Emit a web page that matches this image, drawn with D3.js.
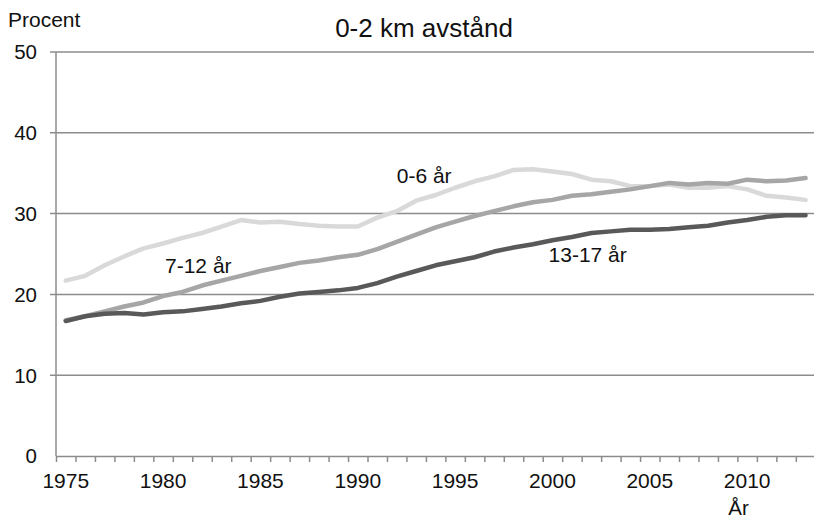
<!DOCTYPE html>
<html>
<head>
<meta charset="utf-8">
<script src="https://cdn.jsdelivr.net/npm/d3@7"></script>
<style>
  body { margin: 0; background: #fff; }
  svg text { font-family: "Liberation Sans", Arial, sans-serif; fill: #111; }
</style>
</head>
<body>
<div id="chart"></div>
<script>
var years = d3.range(1975, 2014);

// 0-6 år
var age0to6 = [21.7, 22.3, 23.6, 24.7, 25.7, 26.3, 27.0, 27.6, 28.4, 29.2,
  28.9, 29.0, 28.7, 28.5, 28.4, 28.4, 29.5, 30.3, 31.6, 32.3,
  33.2, 34.0, 34.6, 35.4, 35.5, 35.2, 34.9, 34.2, 34.0, 33.4,
  33.4, 33.6, 33.2, 33.2, 33.4, 33.0, 32.2, 32.0, 31.7];
// 7-12 år
var age7to12 = [16.8, 17.3, 17.9, 18.5, 19.0, 19.8, 20.3, 21.1, 21.7, 22.3,
  22.9, 23.4, 23.9, 24.2, 24.6, 24.9, 25.6, 26.5, 27.4, 28.3,
  29.0, 29.7, 30.3, 30.9, 31.4, 31.7, 32.2, 32.4, 32.7, 33.0,
  33.4, 33.8, 33.6, 33.8, 33.7, 34.2, 34.0, 34.1, 34.4];
// 13-17 år
var age13to17 = [16.7, 17.3, 17.6, 17.7, 17.5, 17.8, 17.9, 18.2, 18.5, 18.9,
  19.2, 19.7, 20.1, 20.3, 20.5, 20.8, 21.4, 22.2, 22.9, 23.6,
  24.1, 24.6, 25.3, 25.8, 26.2, 26.7, 27.1, 27.6, 27.8, 28.0,
  28.0, 28.1, 28.3, 28.5, 28.9, 29.2, 29.6, 29.8, 29.8];

var yTicks = [0, 10, 20, 30, 40, 50];
var xLabels = [1975, 1980, 1985, 1990, 1995, 2000, 2005, 2010];

var series = [
  { name: "0-6 år", values: age0to6, color: "#d9d9d9", labelYear: 1992, labelValue: 33.8 },
  { name: "7-12 år", values: age7to12, color: "#a6a6a6", labelYear: 1980.1, labelValue: 22.7 },
  { name: "13-17 år", values: age13to17, color: "#595959", labelYear: 1999.8, labelValue: 24.0 }
];

var width = 814, height = 519;

var svg = d3.select("#chart").append("svg")
    .attr("width", width)
    .attr("height", height);

// category axis: one slot per year, line points in the middle of the slot
var x = d3.scaleLinear()
    .domain([1974.5, 2013.5])
    .range([56, 815.3]);

var y = d3.scaleLinear()
    .domain([0, 50])
    .range([456, 52]);

// gridlines
svg.selectAll(".grid")
    .data(yTicks.filter(function(d) { return d > 0; }))
  .enter().append("line")
    .attr("class", "grid")
    .attr("x1", 50)
    .attr("x2", width)
    .attr("y1", function(d) { return y(d); })
    .attr("y2", function(d) { return y(d); })
    .attr("stroke", "#8c8c8c")
    .attr("stroke-width", 1.5);

// y axis line + tick labels
svg.append("line")
    .attr("x1", x.range()[0]).attr("x2", x.range()[0])
    .attr("y1", y(50)).attr("y2", y(0))
    .attr("stroke", "#8c8c8c")
    .attr("stroke-width", 1.5);

svg.selectAll(".ylab")
    .data(yTicks)
  .enter().append("text")
    .attr("class", "ylab")
    .attr("x", 37)
    .attr("y", function(d) { return y(d); })
    .attr("dy", "0.36em")
    .attr("text-anchor", "end")
    .style("font-size", "20.5px")
    .text(function(d) { return d; });

// x axis: base line and ticks between years
var boundaries = d3.range(1974.5, 2014, 1);
var xAxis = d3.axisBottom(x)
    .tickValues(boundaries)
    .tickSize(6)
    .tickSizeOuter(0)
    .tickFormat("");

var gx = svg.append("g")
    .attr("transform", "translate(0," + y(0) + ")")
    .call(xAxis);
gx.select(".domain").attr("stroke", "#8c8c8c").attr("stroke-width", 1.5);
gx.selectAll(".tick line").attr("stroke", "#8c8c8c").attr("stroke-width", 1.5);

svg.selectAll(".xlab")
    .data(xLabels)
  .enter().append("text")
    .attr("class", "xlab")
    .attr("x", function(d) { return x(d); })
    .attr("y", 488)
    .attr("text-anchor", "middle")
    .style("font-size", "21px")
    .text(function(d) { return d; });

// lines
var line = d3.line()
    .x(function(d, i) { return x(years[i]); })
    .y(function(d) { return y(d); });

svg.selectAll(".series")
    .data(series)
  .enter().append("path")
    .attr("class", "series")
    .attr("d", function(d) { return line(d.values); })
    .attr("fill", "none")
    .attr("stroke", function(d) { return d.color; })
    .attr("stroke-width", 4.5)
    .attr("stroke-linejoin", "round")
    .attr("stroke-linecap", "round");

// series labels
svg.selectAll(".slab")
    .data(series)
  .enter().append("text")
    .attr("class", "slab")
    .attr("x", function(d) { return x(d.labelYear); })
    .attr("y", function(d) { return y(d.labelValue); })
    .style("font-size", "21px")
    .text(function(d) { return d.name; });

// titles
svg.append("text")
    .attr("x", 424)
    .attr("y", 37)
    .attr("text-anchor", "middle")
    .style("font-size", "26px")
    .text("0-2 km avstånd");

svg.append("text")
    .attr("x", 8)
    .attr("y", 27)
    .style("font-size", "21px")
    .text("Procent");

svg.append("text")
    .attr("x", 738.5)
    .attr("y", 515)
    .attr("text-anchor", "middle")
    .style("font-size", "20.5px")
    .text("År");
</script>
</body>
</html>
